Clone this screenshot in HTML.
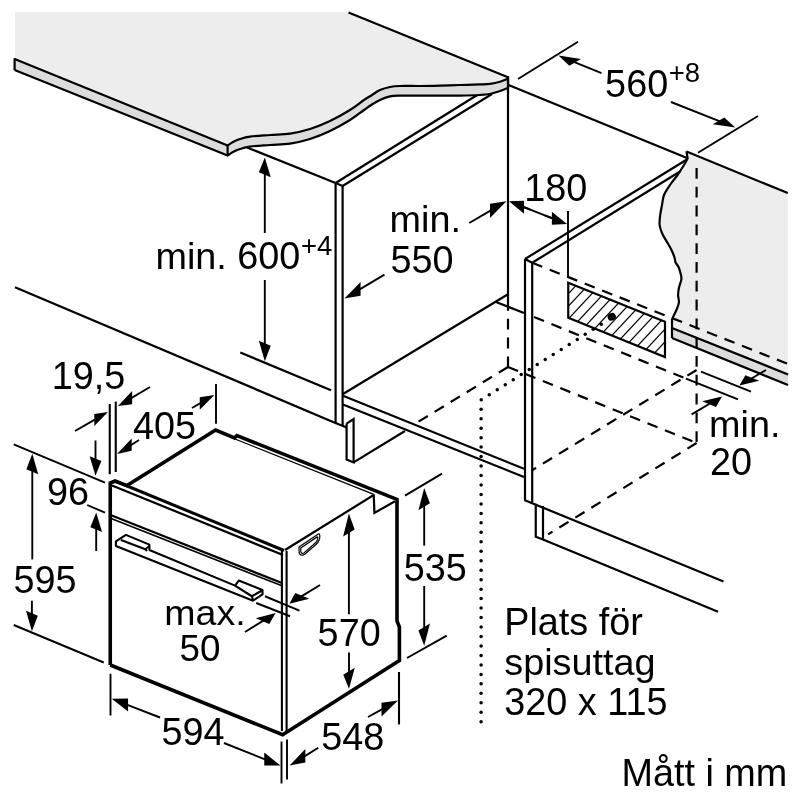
<!DOCTYPE html>
<html><head><meta charset="utf-8"><title>Diagram</title>
<style>
html,body{margin:0;padding:0;background:#fff}
svg{display:block;will-change:transform;font-family:"Liberation Sans",sans-serif}
.m{stroke:#000;stroke-width:2.2;fill:none;stroke-linecap:butt}
.t{stroke:#000;stroke-width:1.9;fill:none}
.t2{stroke:#000;stroke-width:2.1;fill:none}
.k{stroke:#000;stroke-width:3.6;fill:none}
.k3{stroke:#000;stroke-width:3;fill:none}
.n{stroke:#000;stroke-width:1.3;fill:none}
.n2{stroke:#000;stroke-width:1.6;fill:none}
.hd{stroke:#000;stroke-width:2.1;fill:none;stroke-linejoin:round}
.sh{stroke:#000;stroke-width:1.2;fill:none}
.h{stroke:#000;stroke-width:1.2;fill:none}
.d{stroke-dasharray:10.8 8}
.dot{stroke:#000;stroke-width:3.6;fill:none;stroke-linecap:round;stroke-dasharray:0 9.5}
text{fill:#000}
</style></head><body>
<svg width="800" height="800" viewBox="0 0 800 800">
<rect width="800" height="800" fill="#fff"/>
<line x1="247" y1="147.5" x2="335.6" y2="183" class="m" />
<line x1="335.6" y1="183" x2="335.6" y2="423" class="m" />
<line x1="342.6" y1="186" x2="342.6" y2="426" class="m" />
<line x1="335.6" y1="183" x2="342.6" y2="186" class="m" />
<line x1="335.6" y1="183" x2="478" y2="94.5" class="m" />
<line x1="342.6" y1="186" x2="492" y2="94" class="m" />
<line x1="240.3" y1="352.5" x2="331" y2="390.3" class="m" />
<line x1="15" y1="287.2" x2="336" y2="423.2" class="m" />
<line x1="335.6" y1="423" x2="346.6" y2="427.5" class="m" />
<polyline points="346.6,423.6 346.6,459.4 353.6,462.4 353.6,419 346.6,423.6" class="m" />
<line x1="353.6" y1="462.4" x2="405" y2="431" class="m" />
<line x1="343" y1="395.7" x2="524" y2="468.8" class="m" />
<line x1="343" y1="404.5" x2="524" y2="477" class="m" />
<line x1="343" y1="394" x2="508" y2="294.2" class="m" />
<line x1="496" y1="302" x2="524" y2="313" class="m" />
<line x1="534" y1="317" x2="686" y2="378.6" class="m d" />
<line x1="508" y1="76.6" x2="508" y2="310.8" class="m" />
<line x1="508" y1="318.8" x2="508" y2="367.2" class="m d" />
<line x1="508" y1="367" x2="418" y2="422" class="m d" />
<line x1="508" y1="367" x2="696.6" y2="443" class="m d" />
<line x1="696.6" y1="370" x2="532.5" y2="470" class="m d" />
<line x1="696.6" y1="443" x2="548.1" y2="534.4" class="m d" />
<path d="M686.5,151.6 L787.8,193.1 L787.8,374.4 L672,328 L672,319 C672.73,317.50 675.25,312.75 676.4,310 C677.55,307.25 678.62,305.00 678.9,302.5 C679.18,300.00 678.08,297.50 678.1,295 C678.12,292.50 678.45,290.17 679,287.5 C679.55,284.83 681.18,281.50 681.4,279 C681.62,276.50 680.78,274.50 680.3,272.5 C679.82,270.50 679.28,268.67 678.5,267 C677.72,265.33 676.27,264.08 675.6,262.5 C674.93,260.92 675.18,259.58 674.5,257.5 C673.82,255.42 672.70,252.50 671.5,250 C670.30,247.50 668.83,245.21 667.3,242.5 C665.77,239.79 663.58,236.67 662.3,233.75 C661.02,230.83 659.95,228.12 659.6,225 C659.25,221.88 659.80,218.33 660.2,215 C660.60,211.67 661.37,208.33 662,205 C662.63,201.67 662.67,198.33 664,195 C665.33,191.67 667.75,188.33 670,185 C672.25,181.67 675.17,178.33 677.5,175 C679.83,171.67 682.32,167.75 684,165 C685.68,162.25 687.00,159.58 687.6,158.5 Z" fill="#ededed"/>
<polygon points="672,328 788,374.4 788,385 672,338" fill="#dcdcdc" />
<path d="M686.5,151.25 L687.6,158.5 C687.00,159.58 685.68,162.25 684,165 C682.32,167.75 679.83,171.67 677.5,175 C675.17,178.33 672.25,181.67 670,185 C667.75,188.33 665.33,191.67 664,195 C662.67,198.33 662.63,201.67 662,205 C661.37,208.33 660.60,211.67 660.2,215 C659.80,218.33 659.25,221.88 659.6,225 C659.95,228.12 661.02,230.83 662.3,233.75 C663.58,236.67 665.77,239.79 667.3,242.5 C668.83,245.21 670.30,247.50 671.5,250 C672.70,252.50 673.82,255.42 674.5,257.5 C675.18,259.58 674.93,260.92 675.6,262.5 C676.27,264.08 677.72,265.33 678.5,267 C679.28,268.67 679.82,270.50 680.3,272.5 C680.78,274.50 681.62,276.50 681.4,279 C681.18,281.50 679.55,284.83 679,287.5 C678.45,290.17 678.12,292.50 678.1,295 C678.08,297.50 679.18,300.00 678.9,302.5 C678.62,305.00 677.55,307.25 676.4,310 C675.25,312.75 672.73,317.50 672,319" class="m" stroke-linejoin='miter'/>
<line x1="686.5" y1="151.6" x2="787.8" y2="193.1" class="m" />
<line x1="672" y1="319" x2="672" y2="338" class="m" />
<line x1="672" y1="328" x2="788" y2="374.4" class="m" />
<line x1="672" y1="338" x2="788" y2="385" class="m" />
<line x1="532.2" y1="262.8" x2="788" y2="364" class="m d" />
<line x1="696.6" y1="168" x2="696.6" y2="443" class="m d" />
<line x1="508.5" y1="85" x2="687.6" y2="158.2" class="m" />
<line x1="525" y1="259" x2="525" y2="500" class="m" />
<line x1="532.2" y1="262.8" x2="532.2" y2="502.5" class="m" />
<line x1="525" y1="259" x2="532.2" y2="262.8" class="m" />
<line x1="525" y1="259" x2="686.5" y2="159.75" class="m" />
<line x1="532.2" y1="262.8" x2="680" y2="171.5" class="m" />
<line x1="524.25" y1="500" x2="723.5" y2="581.6" class="m" />
<polyline points="535.75,503.75 535.75,536.75 543,539.5 543,506" class="m" />
<line x1="543" y1="539.5" x2="718" y2="611.8" class="m" />
<clipPath id="hc"><polygon points="568.25,282.75 665,321.75 665,357 568.25,317.7"/></clipPath>
<g clip-path="url(#hc)">
<line x1="489.9" y1="365" x2="574.0" y2="275" class="h" />
<line x1="501.7" y1="365" x2="585.8" y2="275" class="h" />
<line x1="513.5" y1="365" x2="597.6" y2="275" class="h" />
<line x1="525.3" y1="365" x2="609.4" y2="275" class="h" />
<line x1="537.1" y1="365" x2="621.2" y2="275" class="h" />
<line x1="548.9" y1="365" x2="633.0" y2="275" class="h" />
<line x1="560.7" y1="365" x2="644.8" y2="275" class="h" />
<line x1="572.5" y1="365" x2="656.6" y2="275" class="h" />
<line x1="584.3" y1="365" x2="668.4" y2="275" class="h" />
<line x1="596.1" y1="365" x2="680.2" y2="275" class="h" />
<line x1="607.9" y1="365" x2="692.0" y2="275" class="h" />
<line x1="619.7" y1="365" x2="703.8" y2="275" class="h" />
<line x1="631.5" y1="365" x2="715.6" y2="275" class="h" />
<line x1="643.3" y1="365" x2="727.4" y2="275" class="h" />
<line x1="655.1" y1="365" x2="739.2" y2="275" class="h" />
<line x1="666.9" y1="365" x2="751.0" y2="275" class="h" />
<line x1="678.7" y1="365" x2="762.8" y2="275" class="h" />
<line x1="690.5" y1="365" x2="774.6" y2="275" class="h" />
</g>
<polygon points="568.25,282.75 665,321.75 665,357 568.25,317.7" class="m" fill="none"/>
<line x1="568" y1="211" x2="568" y2="277" class="t" />
<ellipse cx="611.75" cy="316.8" rx="4.2" ry="3.7" fill="#000" transform="rotate(-30 611.75 316.8)"/>
<circle cx="601.25" cy="324.30" r="1.75" fill="#000"/>
<circle cx="593.25" cy="329.33" r="1.75" fill="#000"/>
<circle cx="585.25" cy="334.36" r="1.75" fill="#000"/>
<circle cx="577.25" cy="339.39" r="1.75" fill="#000"/>
<circle cx="569.25" cy="344.42" r="1.75" fill="#000"/>
<circle cx="561.25" cy="349.45" r="1.75" fill="#000"/>
<circle cx="553.25" cy="354.48" r="1.75" fill="#000"/>
<circle cx="545.25" cy="359.51" r="1.75" fill="#000"/>
<circle cx="537.25" cy="364.54" r="1.75" fill="#000"/>
<circle cx="529.25" cy="369.57" r="1.75" fill="#000"/>
<circle cx="521.25" cy="374.60" r="1.75" fill="#000"/>
<circle cx="513.25" cy="379.63" r="1.75" fill="#000"/>
<circle cx="505.25" cy="384.66" r="1.75" fill="#000"/>
<circle cx="497.25" cy="389.69" r="1.75" fill="#000"/>
<circle cx="489.25" cy="394.72" r="1.75" fill="#000"/>
<circle cx="481.25" cy="399.75" r="1.75" fill="#000"/>
<circle cx="481.1" cy="409.22" r="1.75" fill="#000"/>
<circle cx="481.1" cy="418.69" r="1.75" fill="#000"/>
<circle cx="481.1" cy="428.16" r="1.75" fill="#000"/>
<circle cx="481.1" cy="437.63" r="1.75" fill="#000"/>
<circle cx="481.1" cy="447.10" r="1.75" fill="#000"/>
<circle cx="481.1" cy="456.57" r="1.75" fill="#000"/>
<circle cx="481.1" cy="466.04" r="1.75" fill="#000"/>
<circle cx="481.1" cy="475.51" r="1.75" fill="#000"/>
<circle cx="481.1" cy="484.98" r="1.75" fill="#000"/>
<circle cx="481.1" cy="494.45" r="1.75" fill="#000"/>
<circle cx="481.1" cy="503.92" r="1.75" fill="#000"/>
<circle cx="481.1" cy="513.39" r="1.75" fill="#000"/>
<circle cx="481.1" cy="522.86" r="1.75" fill="#000"/>
<circle cx="481.1" cy="532.33" r="1.75" fill="#000"/>
<circle cx="481.1" cy="541.80" r="1.75" fill="#000"/>
<circle cx="481.1" cy="551.27" r="1.75" fill="#000"/>
<circle cx="481.1" cy="560.74" r="1.75" fill="#000"/>
<circle cx="481.1" cy="570.21" r="1.75" fill="#000"/>
<circle cx="481.1" cy="579.68" r="1.75" fill="#000"/>
<circle cx="481.1" cy="589.15" r="1.75" fill="#000"/>
<circle cx="481.1" cy="598.62" r="1.75" fill="#000"/>
<circle cx="481.1" cy="608.09" r="1.75" fill="#000"/>
<circle cx="481.1" cy="617.56" r="1.75" fill="#000"/>
<circle cx="481.1" cy="627.03" r="1.75" fill="#000"/>
<circle cx="481.1" cy="636.50" r="1.75" fill="#000"/>
<circle cx="481.1" cy="645.97" r="1.75" fill="#000"/>
<circle cx="481.1" cy="655.44" r="1.75" fill="#000"/>
<circle cx="481.1" cy="664.91" r="1.75" fill="#000"/>
<circle cx="481.1" cy="674.38" r="1.75" fill="#000"/>
<circle cx="481.1" cy="683.85" r="1.75" fill="#000"/>
<circle cx="481.1" cy="693.32" r="1.75" fill="#000"/>
<circle cx="481.1" cy="702.79" r="1.75" fill="#000"/>
<circle cx="481.1" cy="712.26" r="1.75" fill="#000"/>
<circle cx="481.1" cy="721.73" r="1.75" fill="#000"/>
<line x1="701" y1="371.6" x2="751" y2="391.6" class="t2" />
<line x1="686" y1="378.6" x2="738" y2="399.4" class="t2" />
<line x1="766" y1="370" x2="751.05" y2="378.77" class="t" />
<polygon points="739.4,385.6 759.28,380.86 745.4,375.16" fill="#000" />
<line x1="691.6" y1="414.4" x2="710.38" y2="403.28" class="t" />
<polygon points="722,396.4 716.03,406.89 702.16,401.19" fill="#000" />
<path d="M15,12 L348,12 L508,77.2 C506.67,79.12 503.00,80.83 500,81.7 C497.00,82.57 493.33,83.35 490,83.8 C486.67,84.25 485.00,84.20 480,84.4 C475.00,84.60 466.67,84.80 460,85 C453.33,85.20 446.67,85.43 440,85.6 C433.33,85.77 426.67,85.93 420,86 C413.33,86.07 405.00,85.83 400,86 C395.00,86.17 393.33,86.33 390,87 C386.67,87.67 383.00,88.67 380,90 C377.00,91.33 374.67,93.33 372,95 C369.33,96.67 367.67,97.50 364,100 C360.33,102.50 355.67,106.50 350,110 C344.33,113.50 336.67,117.83 330,121 C323.33,124.17 316.67,126.90 310,129 C303.33,131.10 296.67,132.60 290,133.6 C283.33,134.60 276.67,134.50 270,135 C263.33,135.50 255.00,135.93 250,136.6 C245.00,137.27 242.83,138.10 240,139 C237.17,139.90 235.07,140.90 233,142 C230.93,143.10 228.50,145.00 227.6,145.6 L15,59 Z" fill="#ededed"/>
<path d="M14.6,59 L227.6,145.6 C228.50,145.00 230.93,143.10 233,142 C235.07,140.90 237.17,139.90 240,139 C242.83,138.10 245.00,137.27 250,136.6 C255.00,135.93 263.33,135.50 270,135 C276.67,134.50 283.33,134.60 290,133.6 C296.67,132.60 303.33,131.10 310,129 C316.67,126.90 323.33,124.17 330,121 C336.67,117.83 344.33,113.50 350,110 C355.67,106.50 360.33,102.50 364,100 C367.67,97.50 369.33,96.67 372,95 C374.67,93.33 377.00,91.33 380,90 C383.00,88.67 386.67,87.67 390,87 C393.33,86.33 395.00,86.17 400,86 C405.00,85.83 413.33,86.07 420,86 C426.67,85.93 433.33,85.77 440,85.6 C446.67,85.43 453.33,85.20 460,85 C466.67,84.80 475.00,84.60 480,84.4 C485.00,84.20 486.67,84.25 490,83.8 C493.33,83.35 497.00,82.57 500,81.7 C503.00,80.83 506.67,79.12 508,78.6 L508,88 C506.67,88.50 503.00,90.00 500,91 C497.00,92.00 493.33,93.33 490,94 C486.67,94.67 485.00,94.73 480,95 C475.00,95.27 466.67,95.50 460,95.6 C453.33,95.70 446.67,95.60 440,95.6 C433.33,95.60 426.67,95.60 420,95.6 C413.33,95.60 405.00,95.47 400,95.6 C395.00,95.73 393.33,95.67 390,96.4 C386.67,97.13 383.00,98.65 380,100 C377.00,101.35 374.67,102.83 372,104.5 C369.33,106.17 367.67,107.42 364,110 C360.33,112.58 355.67,116.50 350,120 C344.33,123.50 336.67,127.83 330,131 C323.33,134.17 316.67,136.90 310,139 C303.33,141.10 296.67,142.60 290,143.6 C283.33,144.60 276.67,144.50 270,145 C263.33,145.50 255.00,145.93 250,146.6 C245.00,147.27 242.83,148.10 240,149 C237.17,149.90 235.07,150.90 233,152 C230.93,153.10 228.50,155.00 227.6,155.6 L14.6,70 Z" fill="#dcdcdc"/>
<path d="M14.6,70 L14.6,59 L227.6,145.6 C228.50,145.00 230.93,143.10 233,142 C235.07,140.90 237.17,139.90 240,139 C242.83,138.10 245.00,137.27 250,136.6 C255.00,135.93 263.33,135.50 270,135 C276.67,134.50 283.33,134.60 290,133.6 C296.67,132.60 303.33,131.10 310,129 C316.67,126.90 323.33,124.17 330,121 C336.67,117.83 344.33,113.50 350,110 C355.67,106.50 360.33,102.50 364,100 C367.67,97.50 369.33,96.67 372,95 C374.67,93.33 377.00,91.33 380,90 C383.00,88.67 386.67,87.67 390,87 C393.33,86.33 395.00,86.17 400,86 C405.00,85.83 413.33,86.07 420,86 C426.67,85.93 433.33,85.77 440,85.6 C446.67,85.43 453.33,85.20 460,85 C466.67,84.80 475.00,84.60 480,84.4 C485.00,84.20 486.67,84.25 490,83.8 C493.33,83.35 497.00,82.57 500,81.7 C503.00,80.83 506.67,79.12 508,78.6 L508,88" class="m" stroke-linejoin='round'/>
<path d="M14.6,70 L227.6,155.6 C228.50,155.00 230.93,153.10 233,152 C235.07,150.90 237.17,149.90 240,149 C242.83,148.10 245.00,147.27 250,146.6 C255.00,145.93 263.33,145.50 270,145 C276.67,144.50 283.33,144.60 290,143.6 C296.67,142.60 303.33,141.10 310,139 C316.67,136.90 323.33,134.17 330,131 C336.67,127.83 344.33,123.50 350,120 C355.67,116.50 360.33,112.58 364,110 C367.67,107.42 369.33,106.17 372,104.5 C374.67,102.83 377.00,101.35 380,100 C383.00,98.65 386.67,97.13 390,96.4 C393.33,95.67 395.00,95.73 400,95.6 C405.00,95.47 413.33,95.60 420,95.6 C426.67,95.60 433.33,95.60 440,95.6 C446.67,95.60 453.33,95.70 460,95.6 C466.67,95.50 475.00,95.27 480,95 C485.00,94.73 486.67,94.67 490,94 C493.33,93.33 497.00,92.00 500,91 C503.00,90.00 506.67,88.50 508,88" class="m" stroke-linejoin='round'/>
<line x1="227.6" y1="145.6" x2="227.6" y2="155.6" class="m" />
<line x1="348.5" y1="12.4" x2="508" y2="77.2" class="m" />
<line x1="508" y1="76.4" x2="508" y2="89" class="m" />
<line x1="518" y1="79" x2="578" y2="41.8" class="t" />
<line x1="698" y1="152.75" x2="758" y2="116" class="t" />
<line x1="601.5" y1="73.2" x2="573.76" y2="61.78" class="t" />
<polygon points="558.5,55.5 580.89,58.9 569.4,65.8" fill="#000" />
<line x1="671" y1="102" x2="719.91" y2="121.41" class="t" />
<polygon points="735.25,127.5 724.26,117.41 712.78,124.31" fill="#000" />
<line x1="264.8" y1="233" x2="264.8" y2="173.3" class="t" />
<polygon points="264.8,157.5 270.72,177.23 258.88,172.37" fill="#000" />
<line x1="264.8" y1="280" x2="264.8" y2="344.7" class="t" />
<polygon points="264.8,361.2 270.72,345.63 258.88,340.77" fill="#000" />
<line x1="469.25" y1="223" x2="491.3" y2="210.09" class="t" />
<polygon points="506.4,201.25 490.0,217.95 490.0,203.75" fill="#000" />
<line x1="384.5" y1="274.6" x2="359.28" y2="289.57" class="t" />
<polygon points="344.4,298.4 360.57,295.7 360.57,281.9" fill="#000" />
<line x1="530" y1="209.5" x2="522.69" y2="206.65" class="t" />
<polygon points="509,201.3 524.09,213.69 524.09,200.69" fill="#000" />
<line x1="545" y1="215.5" x2="553.29" y2="218.7" class="t" />
<polygon points="567,224 551.89,224.66 551.89,211.66" fill="#000" />
<line x1="520" y1="205.6" x2="555" y2="219.3" class="t" />
<line x1="109.75" y1="404" x2="109.75" y2="474.25" class="t2" />
<line x1="115.75" y1="401.6" x2="115.75" y2="472" class="t2" />
<line x1="150" y1="387" x2="130.81" y2="398.39" class="t" />
<polygon points="118,406 132.1,404.23 132.1,391.03" fill="#000" />
<line x1="75" y1="431" x2="95.61" y2="419.14" class="t" />
<polygon points="108,412 94.31,425.88 94.31,413.88" fill="#000" />
<line x1="139" y1="440" x2="130.41" y2="445.46" class="t" />
<polygon points="117,454 131.68,450.86 131.68,438.46" fill="#000" />
<line x1="192" y1="408" x2="201.08" y2="402.73" class="t" />
<polygon points="214.4,395 199.78,409.68 199.78,397.28" fill="#000" />
<line x1="216" y1="384" x2="216" y2="423.75" class="t" />
<line x1="95.5" y1="440.5" x2="95.5" y2="460.15" class="t" />
<polygon points="95.5,475.75 101.37,461.06 89.63,456.24" fill="#000" />
<line x1="96.2" y1="551" x2="96.2" y2="528.1" class="t" />
<polygon points="96.2,512.5 102.07,532.01 90.33,527.19" fill="#000" />
<line x1="87.2" y1="505" x2="105" y2="512.6" class="t" />
<line x1="13.75" y1="444.3" x2="105" y2="482.6" class="t" />
<line x1="13.75" y1="625" x2="103.75" y2="662.5" class="t" />
<line x1="32.3" y1="559.4" x2="32.3" y2="470.25" class="t" />
<polygon points="32.3,453.75 38.22,474.18 26.38,469.32" fill="#000" />
<line x1="31.9" y1="600.7" x2="31.9" y2="614.75" class="t" />
<polygon points="31.9,631.25 37.82,615.68 25.98,610.82" fill="#000" />
<line x1="110.5" y1="673.75" x2="110.5" y2="715.5" class="t" />
<line x1="160" y1="717.5" x2="126.66" y2="704.55" class="t" />
<polygon points="111.75,698.75 128.06,711.59 128.06,698.59" fill="#000" />
<line x1="224" y1="743" x2="265.64" y2="759.66" class="t" />
<polygon points="280.5,765.6 264.25,765.6 264.25,752.6" fill="#000" />
<line x1="281.5" y1="741.6" x2="281.5" y2="783.5" class="t" />
<line x1="287" y1="739.5" x2="287" y2="779.4" class="t" />
<line x1="318.3" y1="747.8" x2="304.05" y2="756.61" class="t" />
<polygon points="289.5,765.6 305.32,762.52 305.32,749.12" fill="#000" />
<line x1="368" y1="717" x2="382.82" y2="708.9" class="t" />
<polygon points="398,700.6 381.5,716.52 381.5,702.72" fill="#000" />
<line x1="399" y1="672" x2="399" y2="724.4" class="t2" />
<line x1="348.9" y1="614.25" x2="348.9" y2="531.5" class="t" />
<polygon points="348.9,513.5 354.64,529.55 343.16,536.45" fill="#000" />
<line x1="349" y1="652.5" x2="349.0" y2="672.75" class="t" />
<polygon points="349,688.75 354.74,667.8 343.26,674.7" fill="#000" />
<line x1="405" y1="495.6" x2="442" y2="473.6" class="t" />
<line x1="407" y1="658" x2="446.7" y2="635.6" class="t" />
<line x1="424.2" y1="545.6" x2="424.2" y2="505.25" class="t" />
<polygon points="424.2,488 429.94,503.3 418.46,510.2" fill="#000" />
<line x1="424.2" y1="586" x2="424.2" y2="628.5" class="t" />
<polygon points="424.2,645.75 429.94,623.55 418.46,630.45" fill="#000" />
<line x1="265" y1="596.25" x2="299.4" y2="610.6" class="t" />
<line x1="256.25" y1="603" x2="290" y2="616.25" class="t" />
<line x1="245" y1="632" x2="263.79" y2="620.33" class="t" />
<polygon points="275.6,613 269.27,623.9 255.76,618.35" fill="#000" />
<line x1="320" y1="585" x2="301.0" y2="596.64" class="t" />
<polygon points="289.4,603.75 309.31,598.75 295.25,592.97" fill="#000" />
<polyline points="110.25,665 110.25,483 115,481 127,485.6 215.6,430 234.4,438 236.9,435.6 397,499.4 397,621 399.4,627 399.4,660.6 282.6,734.7 110.25,665" class="k" stroke-linejoin='miter'/>
<line x1="234.4" y1="438.75" x2="373.75" y2="494.4" class="n" />
<polyline points="373.75,494.4 374.4,513 395,501.25" class="m" />
<line x1="373.75" y1="495" x2="285" y2="550" class="m" />
<line x1="115" y1="481" x2="284" y2="550.5" class="k3" />
<line x1="112" y1="485.5" x2="283" y2="555" class="m" />
<line x1="110.5" y1="515.1" x2="282" y2="583.1" class="m" />
<line x1="110.5" y1="518.3" x2="282" y2="585.8" class="n2" />
<line x1="281.9" y1="551" x2="281.9" y2="731" class="t2" />
<line x1="286.6" y1="551" x2="286.6" y2="731" class="t2" />
<polyline points="252.5,600.4 115.9,546.1 115.9,541.4 125.9,534.9 149.4,544.6 149.4,550 235,585.6 238.75,580.6 262.5,590 262.5,594.4 253,600.6 251.9,596.25 235,585.6" class="hd" />
<line x1="120.9" y1="540.0" x2="145.3" y2="549.3" class="hd" />
<polyline points="149.4,546 145.3,549.3 147,551" class="hd" />
<line x1="251.9" y1="596.25" x2="262" y2="590.5" class="hd" />
<path d="M299,547 L318.3,534 C320.3,533 320,537.5 319.2,540 C318.5,542 317.5,543.2 316,544.5 L305,554 C303,555.8 299.3,556 299.1,552 Z" class="sh"/>
<path d="M300.8,547.9 L317.2,536.9 C318.2,536.5 318,538.6 317.4,540 C316.9,541.3 316.2,542.2 315,543.3 L304.3,552.6 C302.9,553.7 300.9,553.7 300.8,551.5 Z" class="sh"/>
<text transform="translate(605.11,96.8) scale(1,1.03)" font-size="37.8">560</text>
<text transform="translate(668.63,81.6) scale(1,1.03)" font-size="27.5">+8</text>
<text transform="translate(155.41,269) scale(1,0.985)" font-size="37.8">min.</text>
<text transform="translate(237.21,269) scale(1,1.03)" font-size="37.8">600</text>
<text transform="translate(300.88,254.6) scale(1,1.03)" font-size="27.5">+4</text>
<text transform="translate(389.56,232) scale(1,0.985)" font-size="37.8">min.</text>
<text transform="translate(390.41,273.4) scale(1,1.03)" font-size="37.8">550</text>
<text transform="translate(524.2,201) scale(1,1.03)" font-size="37.8">180</text>
<text transform="translate(51.8,389.2) scale(1,1.03)" font-size="37.8">19,5</text>
<text transform="translate(132.95,438.5) scale(1,1.03)" font-size="37.8">405</text>
<text transform="translate(46.96,504.8) scale(1,1.03)" font-size="37.8">96</text>
<text transform="translate(13.51,592.5) scale(1,1.03)" font-size="37.8">595</text>
<text transform="translate(164.34,625.3) scale(1,0.94)" font-size="37.5">max.</text>
<text transform="translate(179.55,660.8) scale(1,0.985)" font-size="36.8">50</text>
<text transform="translate(317.61,646) scale(1,1.03)" font-size="37.8">570</text>
<text transform="translate(403.81,581.4) scale(1,1.03)" font-size="37.8">535</text>
<text transform="translate(161.51,745) scale(1,1.03)" font-size="37.8">594</text>
<text transform="translate(321.31,750.4) scale(1,1.03)" font-size="37.8">548</text>
<text transform="translate(709.01,437) scale(1,0.985)" font-size="37.8">min.</text>
<text transform="translate(710.01,474.8) scale(1,1.03)" font-size="37.8">20</text>
<text transform="translate(504.22,635.2) scale(1,1.01)" font-size="37.8">Plats för</text>
<text transform="translate(504.31,674.6) scale(1,0.985)" font-size="37.8">spisuttag</text>
<text transform="translate(504.31,714.8) scale(1,1.03)" font-size="37.8">320 x 115</text>
<text transform="translate(621.46,785.9) scale(1,1.03)" font-size="37.8">Mått i mm</text>
</svg>
</body></html>
